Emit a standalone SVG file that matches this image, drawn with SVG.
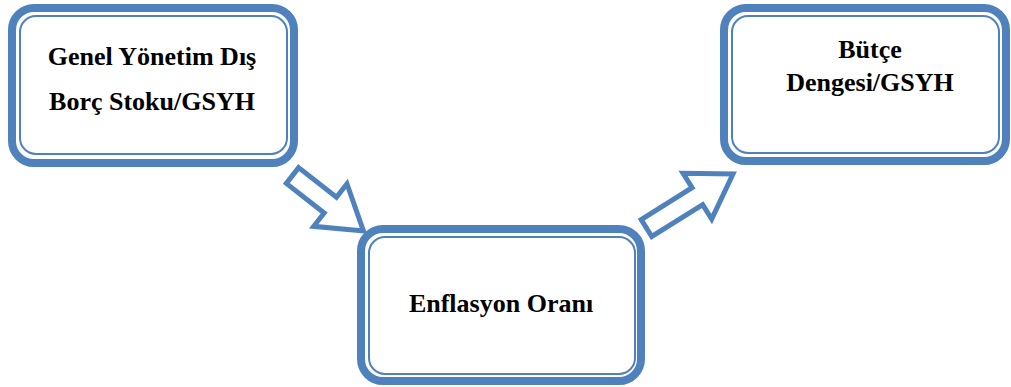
<svg xmlns="http://www.w3.org/2000/svg" width="1011" height="387" viewBox="0 0 1011 387">
  <style>
    .frame { fill: #ffffff; stroke: #4f81bd; stroke-width: 8; }
    .inner { fill: none; stroke: #4f81bd; stroke-width: 2; }
    .label { font-family: "Liberation Serif", "Times New Roman", serif; font-weight: bold; font-size: 26px; fill: #000000; text-anchor: middle; }
    .block-arrow { fill: #ffffff; stroke: #4f81bd; stroke-width: 5; stroke-linejoin: miter; }
  </style>
  <defs>
    <!-- hollow block arrow pointing along +x, tail at origin -->
    <polygon id="arrow-92" points="0,-10 48,-10 48,-27 90,0 48,27 48,10 0,10"/>
    <polygon id="arrow-104" points="0,-10 60,-10 60,-27 102,0 60,27 60,10 0,10"/>
  </defs>

  <g id="connectors">
    <use href="#arrow-92" class="block-arrow" transform="translate(292.5,175.5) rotate(38)"/>
    <use href="#arrow-104" class="block-arrow" transform="translate(646.5,228) rotate(-32)"/>
  </g>

  <g id="node-debt">
    <rect class="frame" x="12" y="8" width="282" height="155" rx="22"/>
    <rect class="inner" x="20" y="16" width="267" height="138" rx="16"/>
    <text class="label" x="152" y="65">Genel Yönetim Dış</text>
    <text class="label" x="152" y="110">Borç Stoku/GSYH</text>
  </g>

  <g id="node-inflation">
    <rect class="frame" x="361" y="229" width="280" height="152" rx="22"/>
    <rect class="inner" x="369" y="237" width="266" height="137" rx="16"/>
    <text class="label" x="501" y="312">Enflasyon Oranı</text>
  </g>

  <g id="node-budget">
    <rect class="frame" x="724" y="8" width="282" height="153" rx="22"/>
    <rect class="inner" x="732" y="16" width="267" height="137" rx="16"/>
    <text class="label" x="870" y="58">Bütçe</text>
    <text class="label" x="870" y="91">Dengesi/GSYH</text>
  </g>
</svg>
